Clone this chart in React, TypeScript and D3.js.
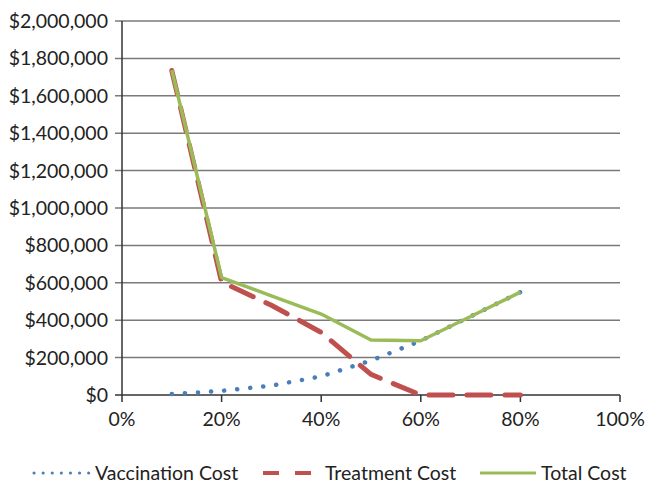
import React from "react";
import * as d3 from "d3";

const coverage = [10, 20, 30, 40, 50, 60, 70, 80];
const vaccinationCost = [5000, 22000, 50000, 100000, 184000, 290000, 420000, 550000];
const treatmentCost = [1735000, 605000, 480000, 335000, 110000, 0, 0, 0];
const totalCost = [1738000, 628000, 530000, 433000, 294000, 290000, 420000, 550000];
const xTicks = [0, 20, 40, 60, 80, 100];
const yTicks = [0, 200000, 400000, 600000, 800000, 1000000, 1200000, 1400000, 1600000, 1800000, 2000000];
const seriesNames = ["Vaccination Cost", "Treatment Cost", "Total Cost"];

const W = 646;
const H = 484;
const FONT = "Lato, 'Open Sans', sans-serif";

export default function App() {
  const x = d3.scaleLinear().domain([0, 100]).range([122, 620]);
  const y = d3.scaleLinear().domain([0, 2000000]).range([395, 21]);
  const line = d3
    .line<[number, number]>()
    .x((d) => x(d[0]))
    .y((d) => y(d[1]));
  const fmt = (v: number) => "$" + d3.format(",")(v);

  const mk = (vals: number[]) => coverage.map((c, i) => [c, vals[i]] as [number, number]);

  const blue = "#4A7EBB";
  const red = "#C0504D";
  const green = "#9BBB59";
  const fs = 19.5;

  return (
    <svg
      width={W}
      height={H}
      style={{ position: "absolute", left: 0, top: 0, background: "#fff" }}
      fontFamily={FONT}
    >
      {/* gridlines */}
      {yTicks.map((t) => (
        <line key={"g" + t} x1={115} x2={620} y1={y(t)} y2={y(t)} stroke={t === 0 ? "#333" : "#7a7a7a"} strokeWidth={1.5} />
      ))}
      {/* y axis */}
      <line x1={122} x2={122} y1={21} y2={395} stroke="#333" strokeWidth={1.5} />
      {/* x ticks */}
      {xTicks.map((t) => (
        <line key={"xt" + t} x1={x(t)} x2={x(t)} y1={395} y2={402} stroke="#333" strokeWidth={1.5} />
      ))}
      {/* y labels */}
      {yTicks.map((t) => (
        <text key={"yl" + t} x={108} y={y(t) + 7} textAnchor="end" fontSize={fs} fill="#222">
          {fmt(t)}
        </text>
      ))}
      {/* x labels */}
      {xTicks.map((t) => (
        <text key={"xl" + t} x={x(t)} y={426} textAnchor="middle" fontSize={fs} fill="#222">
          {t + "%"}
        </text>
      ))}
      {/* series */}
      <path d={line(mk(treatmentCost)) || ""} fill="none" stroke={red} strokeWidth={5} strokeDasharray="24 14" strokeLinecap="round" />
      <path d={line(mk(vaccinationCost)) || ""} fill="none" stroke={blue} strokeWidth={4.5} strokeDasharray="0.1 13" strokeLinecap="round" />
      <path d={line(mk(totalCost)) || ""} fill="none" stroke={green} strokeWidth={3.5} strokeLinejoin="round" />

      {/* legend */}
      <line x1={34} x2={89} y1={473} y2={473} stroke={blue} strokeWidth={3} strokeDasharray="0.1 9" strokeLinecap="round" />
      <text x={95} y={480} fontSize={fs} fill="#222">{seriesNames[0]}</text>
      <line x1={263} x2={311} y1={473} y2={473} stroke={red} strokeWidth={4} strokeDasharray="16 16" />
      <text x={325} y={480} fontSize={fs} fill="#222">{seriesNames[1]}</text>
      <line x1={480} x2={536} y1={473} y2={473} stroke={green} strokeWidth={3} />
      <text x={541} y={480} fontSize={fs} fill="#222">{seriesNames[2]}</text>
    </svg>
  );
}
